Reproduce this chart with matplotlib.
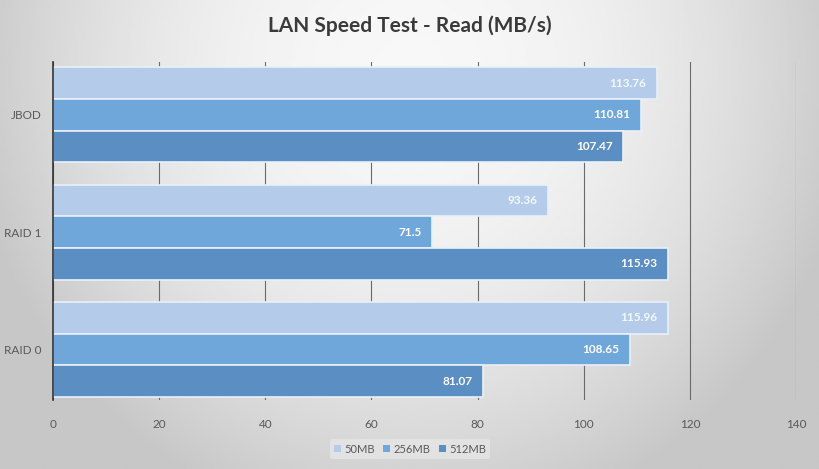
import numpy as np
import matplotlib.pyplot as plt
from matplotlib.patches import Patch

categories = ['RAID 0', 'RAID 1', 'JBOD']
series_names = ['50MB', '256MB', '512MB']
read_50mb = [115.96, 93.36, 113.76]
read_256mb = [108.65, 71.5, 110.81]
read_512mb = [81.07, 115.93, 107.47]
x_ticks = [0, 20, 40, 60, 80, 100, 120, 140]

colors = ['#b4cce9', '#6fa7db', '#5b8ec2']
label_colors = ['#f4f8fc', 'white', 'white']

plt.rcParams['font.family'] = ['Lato', 'DejaVu Sans']

fig = plt.figure(figsize=(8.2, 4.69), dpi=100)

# soft grey background, lightest near the top centre
bg = fig.add_axes([0, 0, 1, 1])
yy, xx = np.mgrid[1:-1:200j, -1:1:350j]
r2 = (xx * 1.0) ** 2 + ((yy - 0.7) * 0.55) ** 2
shade = np.clip(0.97 - 0.16 * r2, 0.78, 1)
bg.imshow(shade, cmap='gray', vmin=0, vmax=1, aspect='auto', extent=[0, 1, 0, 1])
bg.axis('off')

ax = fig.add_axes([53 / 820, 69 / 469, 743 / 820, 338 / 469])
ax.patch.set_alpha(0)

y = np.arange(len(categories))
h = 0.27
data = [read_50mb, read_256mb, read_512mb]
offsets = [h, 0, -h]
for vals, off, c, lc, name in zip(data, offsets, colors, label_colors, series_names):
    bars = ax.barh(y + off, vals, height=h, color=c, edgecolor='#e9f0f8', linewidth=1.2,
                   label=name, zorder=3)
    for b, v in zip(bars, vals):
        ax.text(v - 2, b.get_y() + b.get_height() / 2, f'{v:g}', ha='right', va='center',
                color=lc, fontsize=8.5, fontweight='bold', zorder=4)

ax.set_xlim(0, 140)
ax.set_ylim(-0.43, 2.45)
ax.set_xticks(x_ticks)
ax.set_yticks(y)
ax.set_yticklabels(categories)
ax.tick_params(axis='x', length=0, pad=14, colors='#595959', labelsize=8.5)
ax.tick_params(axis='y', length=0, pad=8, colors='#595959', labelsize=8.5)
ax.grid(axis='x', color='#6a6a6a', linewidth=0.8, zorder=0)
for s in ['top', 'right', 'bottom']:
    ax.spines[s].set_visible(False)
ax.spines['left'].set_color('#333333')
ax.spines['left'].set_linewidth(1.2)
ax.spines['left'].set_zorder(5)

fig.text(0.5, 0.945, 'LAN Speed Test - Read (MB/s)', ha='center', va='center',
         fontsize=15, fontweight='bold', color='#3a3a3a')

handles = [Patch(facecolor=c, edgecolor='none') for c in colors]
leg = fig.legend(handles, series_names, loc='center', bbox_to_anchor=(0.5, 0.042), ncol=3,
                 frameon=True, fontsize=8, handlelength=0.6, handleheight=0.6,
                 handletextpad=0.3, columnspacing=0.8, borderpad=0.4)
leg.get_frame().set_facecolor('#e6e6e6')
leg.get_frame().set_edgecolor('none')
for t in leg.get_texts():
    t.set_color('#595959')

fig.savefig('out.png', dpi=100)
